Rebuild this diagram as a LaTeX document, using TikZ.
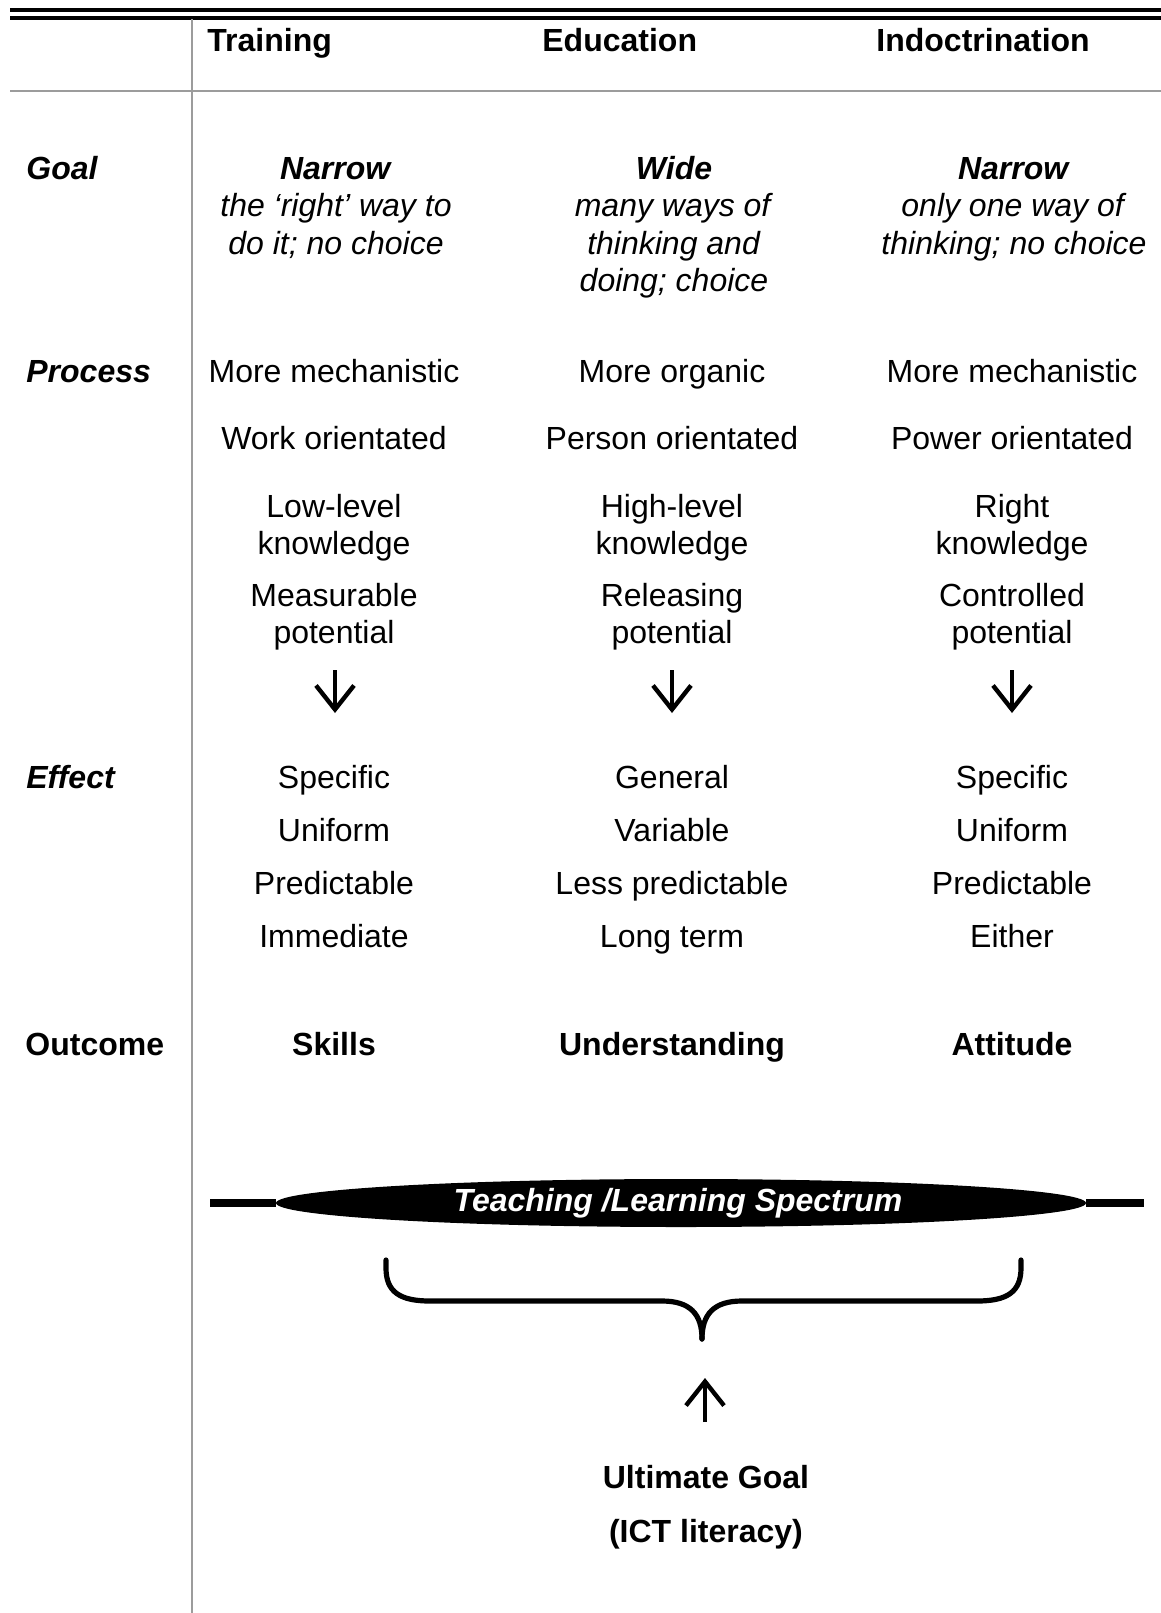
\documentclass[tikz,border=0pt]{standalone}
\usepackage{fontspec}
\setmainfont{Liberation Sans}
\usetikzlibrary{shapes.geometric,arrows.meta}
\definecolor{rulegray}{HTML}{9C9C9C}
\begin{document}
\begin{tikzpicture}[x=0.5pt,y=-0.5pt,
  txt/.style={font=\fontsize{16}{18.75}\selectfont, inner sep=0, align=center, anchor=base},
  head/.style={font=\fontsize{16}{18.75}\selectfont\bfseries, inner sep=0, anchor=base west},
  rowlbl/.style={font=\fontsize{16}{18.75}\selectfont\bfseries\itshape, inner sep=0, anchor=base west},
  thickrule/.style={line width=2pt},
  grayrule/.style={line width=1.4pt, draw=rulegray},
  darr/.style={line width=2.2pt, -{Straight Barb[length=12pt,width=19pt,line width=2.2pt]}},
  bracepath/.style={line width=2.6pt, line cap=round}
]
\useasboundingbox (0,0) rectangle (1161,1613);
% rules
\coordinate (t1l) at (10,10); \coordinate (t1r) at (1161,10);
\coordinate (t2l) at (10,17.5); \coordinate (t2r) at (1161,17.5);
\coordinate (hl) at (10,91); \coordinate (hr) at (1161,91);
\coordinate (vt) at (192,19); \coordinate (vb) at (192,1613);
\draw[thickrule] (t1l) -- (t1r);
\draw[thickrule] (t2l) -- (t2r);
\draw[grayrule] (hl) -- (hr);
\draw[grayrule] (vt) -- (vb);
% headers
\node[head] (hT) at (207,51) {Training};
\node[head] (hE) at (542,51) {Education};
\node[head] (hI) at (876,51) {Indoctrination};
% row labels
\node[rowlbl] (lGoal) at (26,179) {Goal};
\node[rowlbl] (lProc) at (26,382) {Process};
\node[rowlbl] (lEff) at (26,788) {Effect};
\node[head] (lOut) at (25,1055) {Outcome};
% goal (anchor = baseline of last line)
\node[txt] (gT) at (336,254) {\textbf{\textit{Narrow}}\\\textit{the ‘right’ way to}\\\textit{do it; no choice}};
\node[txt] (gE) at (674,291.5) {\textbf{\textit{Wide}}\\\textit{many ways of}\\\textit{thinking and}\\\textit{doing; choice}};
\node[txt] (gI) at (1014,254) {\textbf{\textit{Narrow}}\\\textit{only one way of}\\\textit{thinking; no choice}};
% process
\node[txt] (p1T) at (334,382) {More mechanistic};
\node[txt] (p1E) at (672,382) {More organic};
\node[txt] (p1I) at (1012,382) {More mechanistic};
\node[txt] (p2T) at (334,449) {Work orientated};
\node[txt] (p2E) at (672,449) {Person orientated};
\node[txt] (p2I) at (1012,449) {Power orientated};
\node[txt] (p3T) at (334,554.5) {Low-level\\knowledge};
\node[txt] (p3E) at (672,554.5) {High-level\\knowledge};
\node[txt] (p3I) at (1012,554.5) {Right\\knowledge};
\node[txt] (p4T) at (334,643.5) {Measurable\\potential};
\node[txt] (p4E) at (672,643.5) {Releasing\\potential};
\node[txt] (p4I) at (1012,643.5) {Controlled\\potential};
% arrows
\coordinate (aTs) at (335,670); \coordinate (aTe) at (335,713);
\coordinate (aEs) at (672,670); \coordinate (aEe) at (672,713);
\coordinate (aIs) at (1012,670); \coordinate (aIe) at (1012,713);
\draw[darr] (aTs) -- (aTe);
\draw[darr] (aEs) -- (aEe);
\draw[darr] (aIs) -- (aIe);
% effect
\node[txt] (e1T) at (334,788) {Specific};
\node[txt] (e1E) at (672,788) {General};
\node[txt] (e1I) at (1012,788) {Specific};
\node[txt] (e2T) at (334,841) {Uniform};
\node[txt] (e2E) at (672,841) {Variable};
\node[txt] (e2I) at (1012,841) {Uniform};
\node[txt] (e3T) at (334,894) {Predictable};
\node[txt] (e3E) at (672,894) {Less predictable};
\node[txt] (e3I) at (1012,894) {Predictable};
\node[txt] (e4T) at (334,947) {Immediate};
\node[txt] (e4E) at (672,947) {Long term};
\node[txt] (e4I) at (1012,947) {Either};
% outcome
\node[txt,font=\fontsize{16}{18.75}\selectfont\bfseries] (oT) at (334,1055) {Skills};
\node[txt,font=\fontsize{16}{18.75}\selectfont\bfseries] (oE) at (672,1055) {Understanding};
\node[txt,font=\fontsize{16}{18.75}\selectfont\bfseries] (oI) at (1012,1055) {Attitude};
% spectrum
\coordinate (bl) at (210,1203); \coordinate (br) at (1144,1203);
\node[ellipse, fill=black, inner sep=0, minimum width=405pt, minimum height=24pt] (spec) at (681,1203) {};
\node[text=white, inner sep=0, font=\fontsize{16}{18.75}\selectfont\bfseries\itshape] (specT) at (678,1203) {Teaching /Learning Spectrum};
\draw[line width=4pt] (bl) -- (spec.west);
\draw[line width=4pt] (spec.east) -- (br);
% brace
\coordinate (bL) at (386,1260); \coordinate (bR) at (1021,1260); \coordinate (bTip) at (702,1339);
\draw[bracepath] (bL) -- (386,1268) .. controls (386,1292) and (400,1301) .. (430,1301) -- (662,1301) .. controls (690,1301) and (702,1314) .. (bTip);
\draw[bracepath] (bR) -- (1021,1268) .. controls (1021,1292) and (1007,1301) .. (977,1301) -- (742,1301) .. controls (714,1301) and (702,1314) .. (bTip);
% up arrow
\coordinate (uS) at (705,1422); \coordinate (uE) at (705,1378);
\draw[darr] (uS) -- (uE);
\node[txt,font=\fontsize{16}{18.75}\selectfont\bfseries] (ult) at (706,1488) {Ultimate Goal};
\node[txt,font=\fontsize{16}{18.75}\selectfont\bfseries] (ict) at (706,1542) {(ICT literacy)};
\end{tikzpicture}
\end{document}
